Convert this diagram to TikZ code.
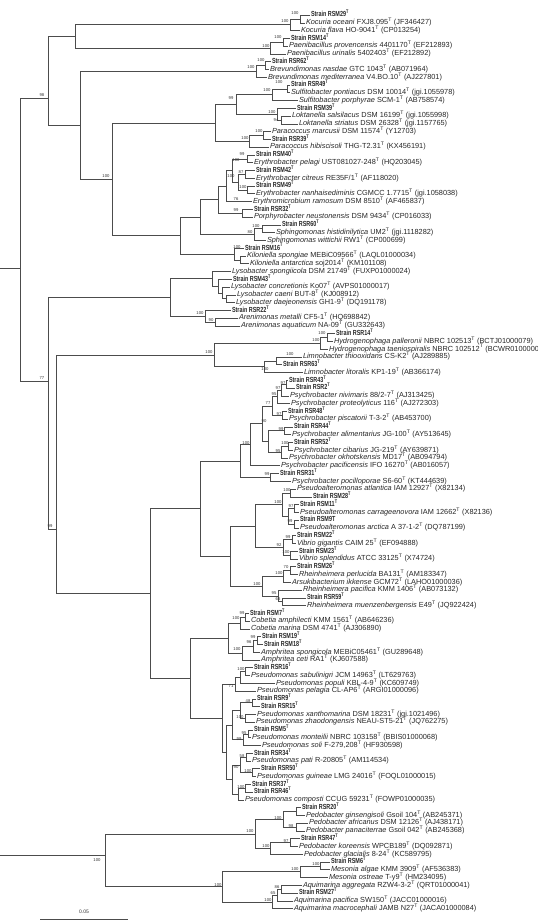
\documentclass[tikz,border=0pt]{standalone}
\usepackage{fontspec}
\setmainfont{Liberation Sans}
\usepackage{graphicx}
\usetikzlibrary{calc}
\newcommand\ty{\textsuperscript{T}}
\newcommand\spn[1]{\textit{#1}}
\newcommand\strn[1]{\scalebox{0.74}[1]{\bfseries Strain #1\textsuperscript{T}}}
\newcommand\strnx[1]{\scalebox{0.74}[1]{\bfseries Strain #1}}
\tikzset{
  br/.style={draw=black!70, line width=0.45pt},
  leaf/.style={anchor=west, inner xsep=0.8pt, inner ysep=0pt, font=\fontsize{7.35}{8}\selectfont, text height=5.2pt, text depth=1.4pt, text=black!85},
  bsl/.style={font=\fontsize{4.2}{5}\selectfont, inner sep=0pt, text=black!80},
}
\newcommand\leaf[3]{\node[leaf] (t#1) at (#2,{15+7.77*(#1-1)}) {#3}; \coordinate (l#1) at (t#1.west);}
\newcommand\inode[4]{\path let \p1=($(#3)!0.5!(#4)$) in (#2pt,\y1) coordinate (#1);
  \draw[br] (#1) |- (#3); \draw[br] (#1) |- (#4);}
\newcommand\inodey[5]{\coordinate (#1) at (#2,#3);
  \draw[br] (#1) |- (#4); \draw[br] (#1) |- (#5);}
\newcommand\bs[4]{\node[bsl] (#1) at (#2,#3) {#4};}
\begin{document}
\begin{tikzpicture}[x=1pt,y=-1pt]
\useasboundingbox (0,0) rectangle (538,922);
% leaves
\leaf{1}{310}{\strn{RSM29}}
\leaf{2}{305}{\spn{Kocuria oceani} FXJ8.095\ty{} (JF346427)}
\leaf{3}{300}{\spn{Kocuria flava} HO-9041\ty{} (CP013254)}
\leaf{4}{290}{\strn{RSM14}}
\leaf{5}{288}{\spn{Paenibacillus provencensis} 4401170\ty{} (EF212893)}
\leaf{6}{286}{\spn{Paenibacillus urinalis} 5402403\ty{} (EF212892)}
\leaf{7}{271}{\strn{RSR62}}
\leaf{8}{269}{\spn{Brevundimonas nasdae} GTC 1043\ty{} (AB071964)}
\leaf{9}{267}{\spn{Brevundimonas mediterranea} V4.BO.10\ty{} (AJ227801)}
\leaf{10}{290}{\strn{RSR49}}
\leaf{11}{290}{\spn{Sulfitobacter pontiacus} DSM 10014\ty{} (jgi.1055978)}
\leaf{12}{298}{\spn{Sulfitobacter porphyrae} SCM-1\ty{} (AB758574)}
\leaf{13}{296}{\strn{RSM39}}
\leaf{14}{291}{\spn{Loktanella salsilacus} DSM 16199\ty{} (jgi.1055998)}
\leaf{15}{298}{\spn{Loktanella striatus} DSM 26328\ty{} (jgi.1157765)}
\leaf{16}{271}{\spn{Paracoccus marcusii} DSM 11574\ty{} (Y12703)}
\leaf{17}{271}{\strn{RSR39}}
\leaf{18}{269}{\spn{Paracoccus hibiscisoli} THG-T2.31\ty{} (KX456191)}
\leaf{19}{255}{\strn{RSM40}}
\leaf{20}{253}{\spn{Erythrobacter pelagi} UST081027-248\ty{} (HQ203045)}
\leaf{21}{255}{\strn{RSM42}}
\leaf{22}{255}{\spn{Erythrobacter citreus} RE35F/1\ty{} (AF118020)}
\leaf{23}{255}{\strn{RSM49}}
\leaf{24}{255}{\spn{Erythrobacter nanhaisediminis} CGMCC 1.7715\ty{} (jgi.1058038)}
\leaf{25}{252}{\spn{Erythromicrobium ramosum} DSM 8510\ty{} (AF465837)}
\leaf{26}{253}{\strn{RSR32}}
\leaf{27}{253}{\spn{Porphyrobacter neustonensis} DSM 9434\ty{} (CP016033)}
\leaf{28}{281}{\strn{RSR60}}
\leaf{29}{275}{\spn{Sphingomonas histidinilytica} UM2\ty{} (jgi.1118282)}
\leaf{30}{266}{\spn{Sphingomonas wittichii} RW1\ty{} (CP000699)}
\leaf{31}{244}{\strn{RSM16}}
\leaf{32}{246}{\spn{Kiloniella spongiae} MEBiC09566\ty{} (LAQL01000034)}
\leaf{33}{249}{\spn{Kiloniella antarctica} soj2014\ty{} (KM101108)}
\leaf{34}{231}{\spn{Lysobacter spongiicola} DSM 21749\ty{} (FUXP01000024)}
\leaf{35}{232}{\strn{RSM43}}
\leaf{36}{230}{\spn{Lysobacter concretionis} Ko07\ty{} (AVPS01000017)}
\leaf{37}{236}{\spn{Lysobacter caeni} BUT-8\ty{} (KJ008912)}
\leaf{38}{235}{\spn{Lysobacter daejeonensis} GH1-9\ty{} (DQ191178)}
\leaf{39}{231}{\strn{RSR22}}
\leaf{40}{238}{\spn{Arenimonas metalli} CF5-1\ty{} (HQ698842)}
\leaf{41}{240}{\spn{Arenimonas aquaticum} NA-09\ty{} (GU332643)}
\leaf{42}{335}{\strn{RSR14}}
\leaf{43}{333}{\spn{Hydrogenophaga palleronii} NBRC 102513\ty{} (BCTJ01000079)}
\leaf{44}{328}{\spn{Hydrogenophaga taeniospiralis} NBRC 102512\ty{} (BCWR01000000)}
\leaf{45}{302}{\spn{Limnobacter thiooxidans} CS-K2\ty{} (AJ289885)}
\leaf{46}{282}{\strn{RSR63}}
\leaf{47}{303}{\spn{Limnobacter litoralis} KP1-19\ty{} (AB366174)}
\leaf{48}{288}{\strn{RSR43}}
\leaf{49}{295}{\strn{RSR2}}
\leaf{50}{289}{\spn{Psychrobacter nivimaris} 88/2-7\ty{} (AJ313425)}
\leaf{51}{290}{\spn{Psychrobacter proteolyticus} 116\ty{} (AJ272303)}
\leaf{52}{287}{\strn{RSR48}}
\leaf{53}{288}{\spn{Psychrobacter piscatorii} T-3-2\ty{} (AB453700)}
\leaf{54}{293}{\strn{RSR44}}
\leaf{55}{291}{\spn{Psychrobacter alimentarius} JG-100\ty{} (AY513645)}
\leaf{56}{293}{\strn{RSR52}}
\leaf{57}{293}{\spn{Psychrobacter cibarius} JG-219\ty{} (AY639871)}
\leaf{58}{288}{\spn{Psychrobacter okhotskensis} MD17\ty{} (AB094794)}
\leaf{59}{280}{\spn{Psychrobacter pacificensis} IFO 16270\ty{} (AB016057)}
\leaf{60}{279}{\strn{RSR31}}
\leaf{61}{291}{\spn{Psychrobacter pocilloporae} S6-60\ty{} (KT444639)}
\leaf{62}{296}{\spn{Pseudoalteromonas atlantica} IAM 12927\ty{} (X82134)}
\leaf{63}{312}{\strn{RSM28}}
\leaf{64}{299}{\strn{RSM11}}
\leaf{65}{299}{\spn{Pseudoalteromonas carrageenovora} IAM 12662\ty{} (X82136)}
\leaf{66}{299}{\strnx{RSM9T}}
\leaf{67}{299}{\spn{Pseudoalteromonas arctica} A 37-1-2\ty{} (DQ787199)}
\leaf{68}{296}{\strn{RSM22}}
\leaf{69}{296}{\spn{Vibrio gigantis} CAIM 25\ty{} (EF094888)}
\leaf{70}{298}{\strn{RSM23}}
\leaf{71}{298}{\spn{Vibrio splendidus} ATCC 33125\ty{} (X74724)}
\leaf{72}{296}{\strn{RSM26}}
\leaf{73}{298}{\spn{Rheinheimera perlucida} BA131\ty{} (AM183347)}
\leaf{74}{291}{\spn{Arsukibacterium ikkense} GCM72\ty{} (LAHO01000036)}
\leaf{75}{302}{\spn{Rheinheimera pacifica} KMM 1406\ty{} (AB073132)}
\leaf{76}{306}{\strn{RSR59}}
\leaf{77}{306}{\spn{Rheinheimera muenzenbergensis} E49\ty{} (JQ922424)}
\leaf{78}{249}{\strn{RSM7}}
\leaf{79}{250}{\spn{Cobetia amphilecti} KMM 1561\ty{} (AB646236)}
\leaf{80}{250}{\spn{Cobetia marina} DSM 4741\ty{} (AJ306890)}
\leaf{81}{261}{\strn{RSM19}}
\leaf{82}{263}{\strn{RSM18}}
\leaf{83}{260}{\spn{Amphritea spongicola} MEBiC05461\ty{} (GU289648)}
\leaf{84}{260}{\spn{Amphritea ceti} RA1\ty{} (KJ607588)}
\leaf{85}{253}{\strn{RSR16}}
\leaf{86}{250}{\spn{Pseudomonas sabulinigri} JCM 14963\ty{} (LT629763)}
\leaf{87}{275}{\spn{Pseudomonas populi} KBL-4-9\ty{} (KC609749)}
\leaf{88}{256}{\spn{Pseudomonas pelagia} CL-AP6\ty{} (ARGI01000096)}
\leaf{89}{256}{\strn{RSR9}}
\leaf{90}{260}{\strn{RSR15}}
\leaf{91}{256}{\spn{Pseudomonas xanthomarina} DSM 18231\ty{} (jgi.1021496)}
\leaf{92}{255}{\spn{Pseudomonas zhaodongensis} NEAU-ST5-21\ty{} (JQ762275)}
\leaf{93}{253}{\strn{RSM5}}
\leaf{94}{251}{\spn{Pseudomonas monteilii} NBRC 103158\ty{} (BBIS01000068)}
\leaf{95}{261}{\spn{Pseudomonas soli} F-279,208\ty{} (HF930598)}
\leaf{96}{253}{\strn{RSR34}}
\leaf{97}{251}{\spn{Pseudomonas pati} R-20805\ty{} (AM114534)}
\leaf{98}{260}{\strn{RSR50}}
\leaf{99}{256}{\spn{Pseudomonas guineae} LMG 24016\ty{} (FOQL01000015)}
\leaf{100}{251}{\strn{RSR37}}
\leaf{101}{253}{\strn{RSR46}}
\leaf{102}{244}{\spn{Pseudomonas composti} CCUG 59231\ty{} (FOWP01000035)}
\leaf{103}{301}{\strn{RSR20}}
\leaf{104}{305}{\spn{Pedobacter ginsengisoli} Gsoil 104\ty{} (AB245371)}
\leaf{105}{308}{\spn{Pedobacter africanus} DSM 12126\ty{} (AJ438171)}
\leaf{106}{305}{\spn{Pedobacter panaciterrae} Gsoil 042\ty{} (AB245368)}
\leaf{107}{300}{\strn{RSR47}}
\leaf{108}{298}{\spn{Pedobacter koreensis} WPCB189\ty{} (DQ092871)}
\leaf{109}{303}{\spn{Pedobacter glacialis} 8-24\ty{} (KC589795)}
\leaf{110}{330}{\strn{RSM6}}
\leaf{111}{330}{\spn{Mesonia algae} KMM 3909\ty{} (AF536383)}
\leaf{112}{328}{\spn{Mesonia ostreae} T-y9\ty{} (HM234095)}
\leaf{113}{302}{\spn{Aquimarina aggregata} RZW4-3-2\ty{} (QRT01000041)}
\leaf{114}{298}{\strn{RSM27}}
\leaf{115}{293}{\spn{Aquimarina pacifica} SW150\ty{} (JACC01000016)}
\leaf{116}{293}{\spn{Aquimarina macrocephali} JAMB N27\ty{} (JACA01000084)}
% Actinobacteria + Firmicutes
\inode{nKa}{300}{l1}{l2}
\inode{nK}{290}{nKa}{l3}
\inode{nPb}{283}{l4}{l5}
\inode{nP}{270}{nPb}{l6}
\inode{nAF}{75}{nK}{nP}
% Alphaproteobacteria
\inode{nBa}{265}{l7}{l8}
\inode{nB}{256}{nBa}{l9}
\inode{nSa}{287}{l10}{l11}
\inode{nS}{272}{nSa}{l12}
\inode{nLa}{281}{l14}{l15}
\inode{nL}{277}{l13}{nLa}
\inode{nRha}{236}{nS}{nL}
\inode{nPaa}{263}{l16}{l17}
\inode{nPa}{249}{nPaa}{l18}
\inode{nRh}{215}{nRha}{nPa}
\inode{nEa}{247}{l19}{l20}
\inode{nEc}{245}{l21}{l22}
\inode{nEd}{247}{l23}{l24}
\inode{nEb}{238}{nEc}{nEd}
\inode{nEe}{232}{nEa}{nEb}
\inode{nEr}{226}{nEe}{l25}
\inode{nEf}{242}{l26}{l27}
\inode{nErb}{218}{nEr}{nEf}
\inode{nSpa}{262}{l28}{l29}
\inode{nSp}{254}{nSpa}{l30}
\inode{nSph}{200}{nErb}{nSp}
\inode{nKia}{240}{l32}{l33}
\inode{nKi}{234}{l31}{nKia}
\inode{nAlb}{180}{nSph}{nKi}
\inode{nAla}{112}{nRh}{nAlb}
\inode{nAl}{80}{nB}{nAla}
\inodey{nN98}{48}{98}{nAF}{nAl}
% Xanthomonadales
\inode{nLya}{226}{l37}{l38}
\inode{nLyb}{222}{l36}{nLya}
\inode{nLyc}{218}{l35}{nLyb}
\inode{nLy}{212}{l34}{nLyc}
\inode{nAra}{215}{l40}{l41}
\inode{nAr}{205}{l39}{nAra}
\inode{nX}{170}{nLy}{nAr}
% Betaproteobacteria
\inode{nHa}{327}{l42}{l43}
\inode{nH}{320}{nHa}{l44}
\inode{nLia}{276}{l45}{l46}
\inode{nLi}{264}{nLia}{l47}
\inode{nBe}{214}{nH}{nLi}
% Psychrobacter
\inode{nPsa}{286}{l48}{l49}
\inode{nPsb}{281}{nPsa}{l50}
\inode{nPsc}{277}{nPsb}{l51}
\inode{nPsd}{282}{l52}{l53}
\inode{nPse}{272}{nPsc}{nPsd}
\inode{nPsf}{284}{l54}{l55}
\inode{nPsg}{288}{l56}{l57}
\inode{nPsh}{281}{nPsg}{l58}
\inode{nPsi}{268}{nPsf}{nPsh}
\inode{nPsj}{262}{nPse}{nPsi}
\inode{nPsk}{250}{nPsj}{l59}
\inode{nPsl}{270}{l60}{l61}
\inode{nPs}{240}{nPsk}{nPsl}
% Pseudoalteromonas, Vibrio, Rheinheimera
\inode{nPAa}{290}{l62}{l63}
\inode{nPAb}{294}{l64}{l65}
\inode{nPAc}{294}{l66}{l67}
\inode{nPAd}{288}{nPAb}{nPAc}
\inode{nPA}{282}{nPAa}{nPAd}
\inode{nVa}{292}{l68}{l69}
\inode{nVb}{290}{l70}{l71}
\inode{nV}{283}{nVa}{nVb}
\inode{nRa}{290}{l72}{l73}
\inode{nRb}{283}{nRa}{l74}
\inode{nRc}{282}{l76}{l77}
\inode{nRd}{278}{l75}{nRc}
\inode{nR}{262}{nRb}{nRd}
\inode{nPAV}{255}{nPA}{nV}
\inode{nPAVR}{230}{nPAV}{nR}
\inode{nGa}{200}{nPs}{nPAVR}
% Cobetia, Amphritea, Pseudomonas
\inode{nCa}{245}{l78}{l79}
\inode{nC}{240}{nCa}{l80}
\inode{nAma}{257}{l81}{l82}
\inode{nAmb}{253}{nAma}{l83}
\inode{nAm}{242}{nAmb}{l84}
\inode{nCA}{228}{nC}{nAm}
\inode{nPma}{245}{l85}{l86}
\inode{nPmb}{240}{nPma}{l87}
\inode{nPmc}{235}{nPmb}{l88}
\inode{nPmd}{252}{l89}{l90}
\inode{nPme}{245}{l91}{l92}
\inode{nPmf}{240}{nPmd}{nPme}
\inode{nPmg}{248}{l93}{l94}
\inode{nPmh}{243}{nPmg}{l95}
\inode{nPmi}{246}{l96}{l97}
\inode{nPmj}{252}{l98}{l99}
\inode{nPmk}{240}{nPmi}{nPmj}
\inode{nPml}{245}{l100}{l101}
\inode{nPmm}{238}{nPml}{l102}
\inode{nPmn}{232}{nPmf}{nPmh}
\inode{nPmo}{232}{nPmk}{nPmm}
\inode{nPmp}{226}{nPmn}{nPmo}
\inode{nPm}{222}{nPmc}{nPmp}
\inode{nGb}{190}{nCA}{nPm}
\inode{nGam}{150}{nGa}{nGb}
\inodey{nBG}{56}{529}{nBe}{nGam}
\inodey{nN77}{48}{381}{nX}{nBG}
\inodey{nN1}{20}{268}{nN98}{nN77}
% Bacteroidetes
\inode{nPea}{296}{l103}{l104}
\inode{nPeb}{296}{l105}{l106}
\inode{nPeA}{283}{nPea}{nPeb}
\inode{nPec}{290}{l107}{l108}
\inode{nPeB}{270}{nPec}{l109}
\inode{nPe}{255}{nPeA}{nPeB}
\inode{nMea}{320}{l110}{l111}
\inode{nMe}{300}{nMea}{l112}
\inode{nAqa}{281}{l113}{l114}
\inode{nAqb}{277}{nAqa}{l115}
\inode{nAq}{272}{nAqb}{l116}
\inode{nMA}{222}{nMe}{nAq}
\inodey{nBac}{105}{855}{nPe}{nMA}
% root (its vertical lies outside the picture)
\coordinate (root) at (-3,560);
\draw[br] (root) |- (nN1);
\draw[br] (root) |- (nBac);
% bootstrap values
\bs{b1}{295}{13}{100}
\bs{b2}{285}{21}{100}
\bs{b3}{278}{37}{100}
\bs{b4}{266}{46}{100}
\bs{b5}{261}{60}{100}
\bs{b6}{251}{67}{100}
\bs{b7}{279}{82}{100}
\bs{b8}{267}{90}{100}
\bs{b9}{231}{98}{99}
\bs{b10}{272}{112}{100}
\bs{b11}{276}{120}{94}
\bs{b12}{259}{131}{100}
\bs{b13}{245}{138}{100}
\bs{b14}{242}{154}{99}
\bs{b15}{236}{160}{100}
\bs{b16}{231}{176}{100}
\bs{b17}{241}{172}{87}
\bs{b18}{243}{187}{100}
\bs{b19}{236}{199}{76}
\bs{b20}{236}{210}{99}
\bs{b21}{256}{226}{100}
\bs{b22}{250}{232}{80}
\bs{b23}{237}{247}{100}
\bs{b24}{200}{313}{100}
\bs{b25}{211}{320}{90}
\bs{b26}{322}{333}{100}
\bs{b27}{316}{340}{100}
\bs{b28}{290}{354}{100}
\bs{b29}{209}{352}{100}
\bs{b30}{265}{369}{100}
\bs{b31}{283}{383}{97}
\bs{b32}{278}{388}{97}
\bs{b33}{274}{394}{95}
\bs{b34}{268}{403}{77}
\bs{b35}{279}{414}{97}
\bs{b36}{264}{421}{90}
\bs{b37}{281}{429}{99}
\bs{b38}{285}{443}{100}
\bs{b39}{246}{443}{100}
\bs{b40}{278}{451}{95}
\bs{b41}{267}{474}{99}
\bs{b42}{287}{490}{100}
\bs{b43}{278}{502}{100}
\bs{b44}{291}{506}{97}
\bs{b45}{290}{521}{99}
\bs{b46}{288}{537}{99}
\bs{b47}{286}{552}{100}
\bs{b48}{279}{545}{92}
\bs{b49}{286}{567}{70}
\bs{b50}{279}{573}{100}
\bs{b51}{274}{593}{95}
\bs{b52}{257}{584}{100}
\bs{b53}{278}{599}{66}
\bs{b54}{242}{613}{99}
\bs{b55}{236}{618}{100}
\bs{b56}{253}{637}{99}
\bs{b57}{249}{642}{96}
\bs{b58}{237}{649}{100}
\bs{b59}{241}{669}{100}
\bs{b60}{231}{686}{71}
\bs{b61}{248}{701}{48}
\bs{b62}{240}{717}{100}
\bs{b63}{244}{733}{95}
\bs{b64}{239}{739}{99}
\bs{b65}{242}{756}{58}
\bs{b66}{248}{771}{100}
\bs{b67}{236}{767}{90}
\bs{b68}{241}{787}{100}
\bs{b69}{278}{818}{100}
\bs{b70}{291}{826}{98}
\bs{b71}{250}{831}{100}
\bs{b72}{286}{841}{97}
\bs{b73}{266}{846}{100}
\bs{b74}{316}{864}{100}
\bs{b75}{295}{869}{100}
\bs{b76}{277}{887}{86}
\bs{b77}{273}{893}{65}
\bs{b78}{268}{900}{100}
\bs{b79}{218}{885}{100}
\bs{b80}{97}{860}{100}
\bs{b81}{42}{95}{98}
\bs{b82}{42}{378}{77}
\bs{b83}{106}{176}{100}
\bs{b84}{50}{526}{99}
% scale bar
\coordinate (sbL) at (40,919);
\coordinate (sbR) at (128,919);
\draw[br] (sbL) -- (sbR);
\node[bsl, font=\fontsize{5}{6}\selectfont] (sbt) at ($(sbL)!0.5!(sbR)+(0,-7)$) {0.05};
\end{tikzpicture}
\end{document}
